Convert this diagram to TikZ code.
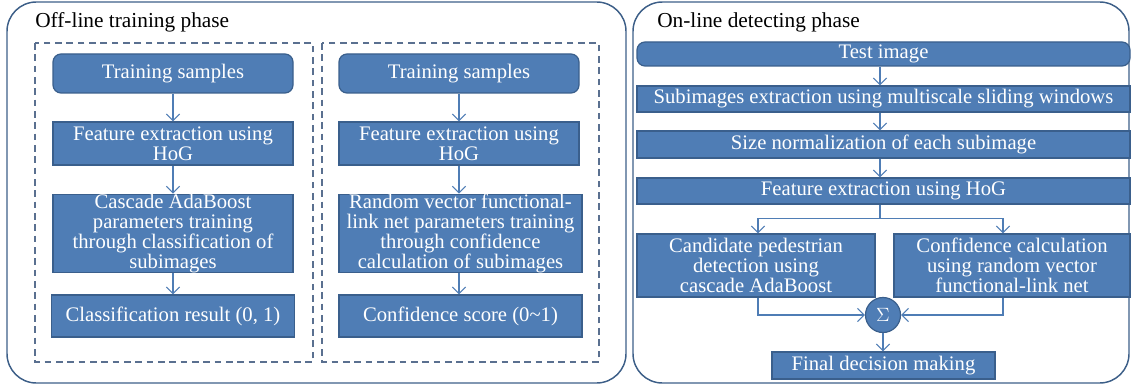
\documentclass[tikz,border=0pt]{standalone}
\usepackage{fontspec}
\setmainfont{Liberation Serif}
\usetikzlibrary{arrows.meta,calc}
\definecolor{boxfill}{HTML}{4F7DB5}
\definecolor{boxline}{HTML}{3A5F8C}
\definecolor{frameline}{HTML}{3D5F88}
\definecolor{dashline}{HTML}{5A7090}
\definecolor{arrowcol}{HTML}{4F7DB5}
\tikzset{
  x=0.75pt, y=-0.75pt,
  sz/.style 2 args={minimum width=#1*0.75pt, minimum height=#2*0.75pt},
  bx/.style={draw=boxline, line width=0.9pt, fill=boxfill, text=white, align=center,
    inner sep=0pt, font=\fontsize{15.5}{14.9}\selectfont},
  rbx/.style={bx, rounded corners=6pt},
  conn/.style={draw=arrowcol, line width=0.8pt, -{Straight Barb[length=5pt,width=10pt,line width=0.8pt]}},
  plain/.style={draw=arrowcol, line width=0.8pt},
  frame/.style={draw=frameline, line width=1.1pt, rounded corners=22pt},
  dbox/.style={draw=dashline, line width=0.9pt, dash pattern=on 5pt off 3.5pt},
  ttl/.style={anchor=west, font=\fontsize{16}{17}\selectfont, inner sep=0pt}
}
\begin{document}
\begin{tikzpicture}
\useasboundingbox (0,0) rectangle (1131,385);
% frames
\draw[frame] (7,2) rectangle (626,383);
\draw[frame] (633,2) rectangle (1129,383);
\node[ttl] (t1) at (35,22) {Off-line training phase};
\node[ttl] (t2) at (657,22) {On-line detecting phase};
\draw[dbox] (35,43) rectangle (313,362);
\draw[dbox] (322,43) rectangle (599,362);
% left column
\node[rbx, sz={240}{39}] (ts1) at (173,73.5) {Training samples};
\node[bx, sz={240}{43}] (fe1) at (173,143.5) {Feature extraction using\\HoG};
\node[bx, sz={240}{77}] (ca1) at (173,233.5) {Cascade AdaBoost\\parameters training\\through classification of\\subimages};
\node[bx, sz={243}{42}] (cr1) at (173,316) {Classification result (0, 1)};
\draw[conn] (ts1) -- (fe1);
\draw[conn] (fe1) -- (ca1);
\draw[conn] (ca1) -- (cr1);
% middle column
\node[rbx, sz={240}{39}] (ts2) at (459,73.5) {Training samples};
\node[bx, sz={240}{43}] (fe2) at (459,143.5) {Feature extraction using\\HoG};
\node[bx, sz={243}{77}] (rv2) at (460.5,233.5) {Random vector functional-\\link net parameters training\\through confidence\\calculation of subimages};
\node[bx, sz={243}{42}] (cs2) at (460.5,316) {Confidence score (0\char`\~1)};
\draw[conn] (ts2) -- (fe2);
\draw[conn] (fe2.south) -- (fe2.south |- rv2.north);
\draw[conn] (rv2.south -| fe2.south) -- (cs2.north -| fe2.south);
% right panel
\node[rbx, sz={493}{24}] (ti) at (883.5,54) {Test image};
\node[bx, sz={493}{26}] (se) at (883.5,99) {Subimages extraction using multiscale sliding windows};
\node[bx, sz={493}{27}] (sn) at (883.5,144.5) {Size normalization of each subimage};
\node[bx, sz={493}{26}] (fe) at (883.5,191) {Feature extraction using HoG};
\node[bx, sz={238}{63}] (cand) at (756,265.5) {Candidate pedestrian\\detection using\\cascade AdaBoost};
\node[bx, sz={236}{63}] (conf) at (1012,265.5) {Confidence calculation\\using random vector\\functional-link net};
\node[circle, draw=boxline, line width=0.9pt, fill=boxfill, text=white, minimum size=35*0.75pt, inner sep=0pt,
  font=\fontsize{15}{15}\selectfont] (sig) at (883,315) {$\Sigma$};
\node[bx, sz={223}{27}] (fin) at (883.5,365.5) {Final decision making};
\draw[conn] (ti.south -| 880,0) -- (se.north -| 880,0);
\draw[conn] (se.south -| 880,0) -- (sn.north -| 880,0);
\draw[conn] (sn.south -| 880,0) -- (fe.north -| 880,0);
\coordinate (br) at ($(fe.south -| 880,0)+(0,14)$);
\draw[plain] (fe.south -| 880,0) -- (br);
\draw[conn] (br) -| (cand.north -| 758,0);
\draw[conn] (br) -| (conf.north -| 1003,0);
\draw[conn] (cand.south -| 758,0) |- (sig.west);
\draw[conn] (conf.south -| 1003,0) |- (sig.east);
\draw[conn] (sig) -- (sig.south |- fin.north);
\end{tikzpicture}
\end{document}
